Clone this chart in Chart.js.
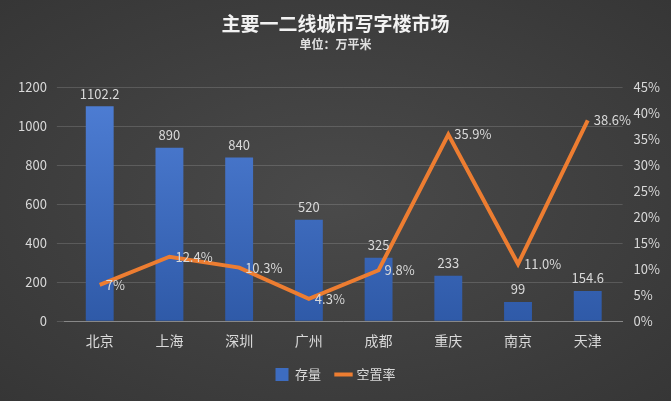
<!DOCTYPE html>
<html><head><meta charset="utf-8">
<script src="https://cdn.jsdelivr.net/npm/chart.js@4"></script>
<style>
html,body{margin:0;padding:0;}
body{width:671px;height:401px;background:radial-gradient(ellipse at center,#4a4a4a 0%,#363636 100%);}
#wrap{position:relative;width:671px;height:401px;}
</style></head><body><div id="wrap"><canvas id="c" width="671" height="401"></canvas></div>
<script>
const categories=['北京','上海','深圳','广州','成都','重庆','南京','天津'];
const stock=[1102.2,890,840,520,325,233,99,154.6];
const vacancy=[7,12.4,10.3,4.3,9.8,35.9,11.0,38.6];
const vacancyLabels=['7%','12.4%','10.3%','4.3%','9.8%','35.9%','11.0%','38.6%'];
const leftTicks=[0,200,400,600,800,1000,1200];
const FONT='"Noto Sans CJK SC","Noto Sans",sans-serif';
const labelPlugin={id:'lbl',afterDatasetsDraw(ch){
 const ctx=ch.ctx;ctx.save();ctx.font='13px '+FONT;ctx.fillStyle='#d9d9d9';
 ch.getDatasetMeta(0).data.forEach((b,i)=>{ctx.textAlign='center';ctx.textBaseline='bottom';ctx.fillText(String(stock[i]),b.x,b.y-6);});
 ch.getDatasetMeta(1).data.forEach((p,i)=>{ctx.textAlign='left';ctx.textBaseline='middle';ctx.fillText(vacancyLabels[i],p.x+6,p.y);});
 ctx.restore();}};
Chart.defaults.font.family=FONT;
new Chart(document.getElementById('c'),{
 data:{labels:categories,datasets:[
  {type:'bar',label:'存量',data:stock,yAxisID:'y',order:2,
   backgroundColor:(c)=>{const a=c.chart.chartArea;if(!a)return '#4472c4';const g=c.chart.ctx.createLinearGradient(0,a.top,0,a.bottom);g.addColorStop(0,'#4f7fd6');g.addColorStop(1,'#2f5aa8');return g;},
   barPercentage:0.4,categoryPercentage:1},
  {type:'line',label:'空置率',data:vacancy,yAxisID:'y1',order:1,borderColor:'#ed7d31',backgroundColor:'#ed7d31',borderWidth:4,pointRadius:0,tension:0}
 ]},
 options:{responsive:false,animation:false,
  layout:{padding:{left:8,right:8,top:4,bottom:10}},
  plugins:{
   title:{display:true,text:'主要一二线城市写字楼市场',color:'#f2f2f2',font:{size:19,weight:'bold',family:FONT},padding:{top:8,bottom:2}},
   subtitle:{display:true,text:'单位：万平米',color:'#e0e0e0',font:{size:12,weight:'bold',family:FONT},padding:{bottom:36}},
   legend:{position:'bottom',labels:{color:'#d9d9d9',font:{size:13},usePointStyle:true,boxWidth:40,padding:16,
    generateLabels:(ch)=>[
     {text:'存量',fillStyle:'#3d6cc0',strokeStyle:'#3d6cc0',lineWidth:0,pointStyle:'rect',datasetIndex:0,fontColor:'#d9d9d9'},
     {text:'空置率',fillStyle:'#ed7d31',strokeStyle:'#ed7d31',lineWidth:4,pointStyle:'line',datasetIndex:1,fontColor:'#d9d9d9'}]}},
   tooltip:{enabled:false}},
  scales:{
   x:{grid:{display:false},border:{color:'#888'},ticks:{color:'#d9d9d9',font:{size:14}}},
   y:{position:'left',min:0,max:1200,afterBuildTicks:(a)=>{a.ticks=leftTicks.map(v=>({value:v}));},
      grid:{color:'rgba(255,255,255,0.15)'},border:{display:false},ticks:{color:'#d9d9d9',font:{size:13},padding:10,callback:v=>String(v)}},
   y1:{position:'right',min:0,max:45,grid:{display:false},border:{display:false},
      ticks:{stepSize:5,color:'#d9d9d9',font:{size:13},callback:v=>v+'%'}}
  }},
 plugins:[labelPlugin]});
</script></body></html>
